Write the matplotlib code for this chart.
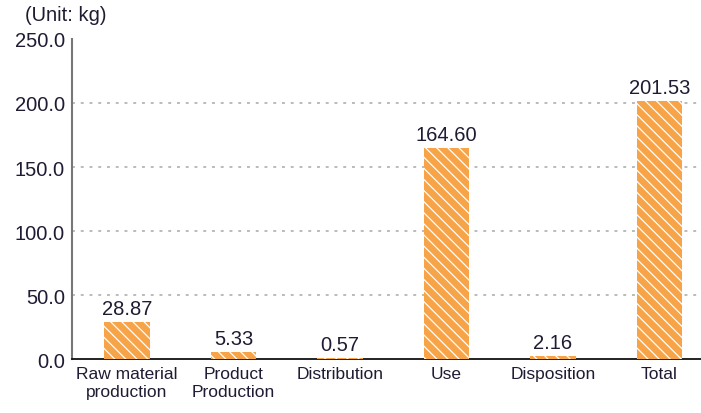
import numpy as np
import matplotlib.pyplot as plt

plt.rcParams['font.family'] = ['Liberation Sans', 'DejaVu Sans']
plt.rcParams['hatch.color'] = 'white'
plt.rcParams['hatch.linewidth'] = 0.9

categories = ["Raw material\nproduction", "Product\nProduction", "Distribution",
              "Use", "Disposition", "Total"]
values = [28.87, 5.33, 0.57, 164.60, 2.16, 201.53]
yticks = [0, 50, 100, 150, 200, 250]

txt = '#1e1c33'
bar_col = '#f7a347'

fig = plt.figure(figsize=(7.01, 4.14), dpi=100)
ax = fig.add_axes([0.1027, 0.1304, 0.8973, 0.773])

x = np.arange(len(categories))
ax.bar(x, values, width=0.43, color=bar_col, edgecolor='white', linewidth=0,
       hatch='\\\\\\', zorder=3)

for xi, v in zip(x, values):
    ax.text(xi, v + 3, "%.2f" % v, ha='center', va='bottom', fontsize=14.5, color=txt)

ax.set_xlim(-0.516, 5.39)
ax.set_ylim(0, 250)
ax.set_yticks(yticks)
ax.set_yticklabels(["%.1f" % t for t in yticks], fontsize=14.5, color=txt)
ax.set_xticks(x)
ax.set_xticklabels(categories, fontsize=12.5, color=txt, linespacing=1.25)
ax.tick_params(axis='both', length=0, pad=5)

for g in yticks[1:-1]:
    ax.axhline(g, color='#bbbbbb', linestyle=(0, (1.5, 3)), linewidth=1.4, zorder=1)

for s in ['top', 'right']:
    ax.spines[s].set_visible(False)
ax.spines['left'].set_color('#777777')
ax.spines['left'].set_linewidth(1.5)
ax.spines['bottom'].set_color('#111111')
ax.spines['bottom'].set_linewidth(1.3)

fig.text(0.036, 0.963, "(Unit: kg)", fontsize=14.5, color=txt, ha='left', va='center')

fig.savefig("out.png", dpi=100)
